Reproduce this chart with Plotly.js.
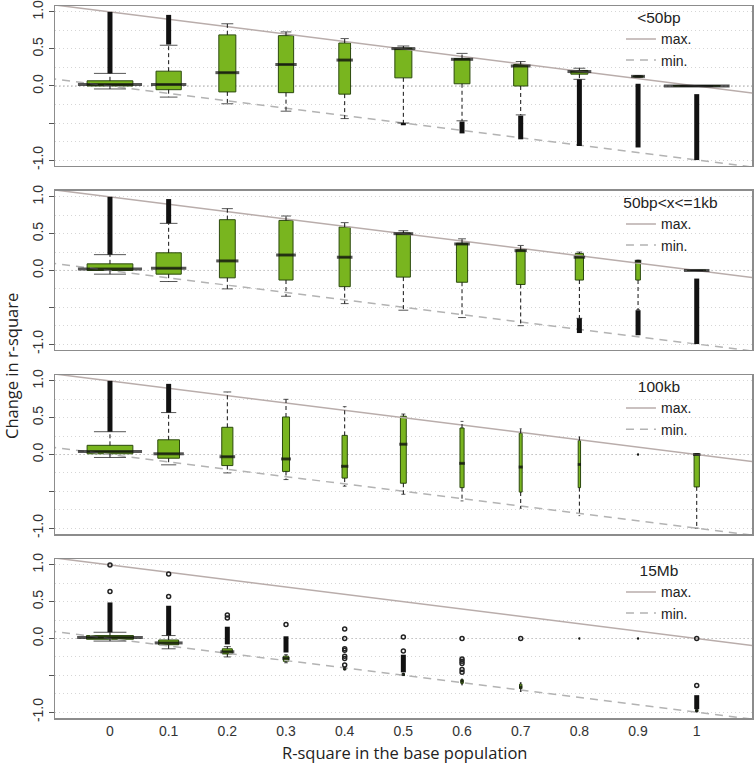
<!DOCTYPE html>
<html><head><meta charset="utf-8">
<script src="https://cdn.plot.ly/plotly-3.0.1.min.js"></script>
<style>html,body{margin:0;padding:0;background:#fff}</style>
</head><body><div id="chart" style="width:755px;height:769px"></div>
<script>
// ---------- data ----------
const rsq = [0, 0.1, 0.2, 0.3, 0.4, 0.5, 0.6, 0.7, 0.8, 0.9, 1];
const xTickLabels = ['0', '0.1', '0.2', '0.3', '0.4', '0.5', '0.6', '0.7', '0.8', '0.9', '1'];
const panelNames = ['&lt;50bp', '50bp&lt;x&lt;=1kb', '100kb', '15Mb'];

const q1 = [
  [0.00, -0.05, -0.08, -0.09, -0.11, 0.11, 0.03, 0.00, 0.16, 0.12, 0.00],
  [0.00, -0.05, -0.10, -0.13, -0.22, -0.09, -0.16, -0.19, -0.13, -0.13, 0.00],
  [0.01, -0.05, -0.15, -0.23, -0.32, -0.39, -0.45, -0.51, -0.45, 0.00, -0.44],
  [-0.01, -0.085, -0.21, -0.31, -0.42, -0.50, -0.61, -0.68, 0.00, 0.00, -0.99]
];
const med = [
  [0.02, 0.02, 0.18, 0.29, 0.35, 0.505, 0.36, 0.27, 0.195, 0.13, 0.00],
  [0.02, 0.03, 0.13, 0.21, 0.18, 0.50, 0.36, 0.27, 0.18, 0.125, 0.00],
  [0.04, 0.01, -0.03, -0.06, -0.16, 0.14, -0.12, -0.17, -0.135, 0.00, 0.00],
  [0.013, -0.06, -0.18, -0.27, -0.41, -0.49, -0.58, -0.66, 0.00, 0.00, -0.98]
];
const q3 = [
  [0.07, 0.20, 0.69, 0.68, 0.58, 0.51, 0.37, 0.29, 0.21, 0.135, 0.005],
  [0.09, 0.24, 0.69, 0.68, 0.59, 0.51, 0.37, 0.28, 0.23, 0.135, 0.005],
  [0.125, 0.20, 0.37, 0.51, 0.26, 0.52, 0.36, 0.29, 0.19, 0.00, 0.01],
  [0.04, -0.02, -0.14, -0.24, -0.40, -0.48, -0.56, -0.62, 0.00, 0.00, -0.97]
];
const lowWhisker = [
  [-0.04, -0.15, -0.24, -0.34, -0.44, -0.50, -0.47, -0.39, 0.09, 0.12, 0.00],
  [-0.05, -0.15, -0.25, -0.35, -0.45, -0.54, -0.64, -0.75, -0.65, -0.53, 0.00],
  [-0.04, -0.14, -0.25, -0.34, -0.43, -0.54, -0.63, -0.73, -0.83, 0.00, -1.00],
  [-0.035, -0.14, -0.25, -0.33, -0.43, -0.50, -0.63, -0.72, 0.00, 0.00, -1.00]
];
const highWhisker = [
  [0.17, 0.55, 0.84, 0.73, 0.64, 0.54, 0.44, 0.33, 0.24, 0.14, 0.00],
  [0.215, 0.64, 0.84, 0.74, 0.65, 0.54, 0.43, 0.34, 0.25, 0.14, 0.00],
  [0.31, 0.57, 0.85, 0.75, 0.65, 0.55, 0.45, 0.35, 0.24, 0.00, 0.01],
  [0.085, 0.04, -0.11, -0.22, -0.40, -0.47, -0.55, -0.60, 0.00, 0.00, -0.97]
];
// relative box widths (varwidth), as a share of category spacing
const boxWidth = [
  [0.78, 0.43, 0.29, 0.26, 0.20, 0.29, 0.27, 0.24, 0.29, 0.17, 0.80],
  [0.78, 0.43, 0.27, 0.24, 0.19, 0.24, 0.19, 0.15, 0.14, 0.08, 0.31],
  [0.78, 0.37, 0.19, 0.12, 0.09, 0.10, 0.07, 0.05, 0.04, 0.02, 0.09],
  [0.80, 0.34, 0.17, 0.09, 0.04, 0.04, 0.04, 0.04, 0.02, 0.02, 0.04]
];
// dense outlier runs: [x, from, to]
const outlierRuns = [
  [[0, 0.17, 1.0], [0.1, 0.56, 0.96], [0.5, -0.50, -0.53], [0.6, -0.48, -0.64], [0.7, -0.40, -0.72], [0.8, 0.09, -0.81], [0.9, 0.03, -0.83], [1, -0.11, -1.0]],
  [[0, 0.215, 1.0], [0.1, 0.64, 0.97], [0.8, -0.65, -0.85], [0.9, -0.54, -0.88], [1, -0.11, -1.0]],
  [[0, 0.31, 1.0], [0.1, 0.57, 0.96]],
  [[0, 0.085, 0.49], [0.1, 0.04, 0.445], [0.2, -0.08, 0.16], [0.3, -0.19, 0.03], [0.5, -0.22, -0.46], [1, -0.77, -0.96]]
];
// isolated outliers
const outlierX = [[], [], [], [0, 0, 0.1, 0.1, 0.2, 0.2, 0.3, 0.4, 0.4, 0.4, 0.4, 0.4, 0.4, 0.4, 0.5, 0.5, 0.6, 0.6, 0.6, 0.6, 0.6, 0.6, 0.7, 1, 1]];
const outlierY = [[], [], [], [0.64, 1.0, 0.57, 0.875, 0.28, 0.32, 0.19, 0.13, 0.0, -0.14, -0.16, -0.24, -0.27, -0.36, 0.02, -0.17, 0.0, -0.28, -0.31, -0.34, -0.42, -0.46, 0.0, 0.0, -0.64]];
// theoretical bounds
const boundX = [-0.2, 1.2];
const maxBound = [1.2, -0.2];
const minBound = [0.2, -1.2];

// ---------- layout geometry ----------
const W = 755, H = 769;
const M = {l: 55, r: 3, t: 6, b: 51};
const plotW = W - M.l - M.r;
const xRange = [-0.0937, 1.0942];
const pxPerUnit = plotW / (xRange[1] - xRange[0]);
const spacing = 0.1;
const domains = [[0.7753, 1.0], [0.5169, 0.7402], [0.2584, 0.4817], [0.0, 0.2233]];

const GREEN = '#79b51f';
const OUTLINE = '#2c4a0e';
const FONT = 'Liberation Sans, Arial, sans-serif';
const GRID = '#d6d6d6';

const traces = [];
const layout = {
  width: W, height: H, margin: M,
  paper_bgcolor: '#fff', plot_bgcolor: '#fff',
  font: {family: FONT, size: 13, color: '#222'},
  showlegend: true,
  shapes: [], annotations: []
};

for (let p = 0; p < 4; p++) {
  const sfx = p === 0 ? '' : String(p + 1);
  const xa = 'x' + sfx, ya = 'y' + sfx;
  const lg = 'legend' + sfx;

  layout['xaxis' + sfx] = {
    domain: [0, 1], anchor: ya, range: xRange, matches: p === 0 ? undefined : 'x',
    showgrid: false, zeroline: false, showline: true, mirror: true,
    linecolor: '#8c8c8c', linewidth: 1.5,
    tickmode: 'array', tickvals: rsq, ticktext: xTickLabels,
    showticklabels: p === 3, ticks: '',
    tickfont: {family: FONT, size: 14, color: '#333'}
  };
  layout['yaxis' + sfx] = {
    domain: domains[p], anchor: xa, range: [-1.08, 1.08],
    showline: true, mirror: true, linecolor: '#8c8c8c', linewidth: 1.5,
    zeroline: false, ticklabeloverflow: 'allow',
    tickmode: 'array', tickvals: [-1, -0.5, 0, 0.5, 1], ticktext: ['-1.0', '', '0.0', '0.5', '1.0'],
    ticks: 'outside', ticklen: 5, tickcolor: '#555', tickangle: -90,
    tickfont: {family: FONT, size: 14, color: '#333'},
    showgrid: true, gridcolor: GRID, griddash: '1px,3px', gridwidth: 1,
    minor: {tickvals: [-0.75, -0.25, 0.25, 0.75], showgrid: true, gridcolor: GRID, griddash: '1px,3px', gridwidth: 1, ticks: ''}
  };
  layout.shapes.push({type: 'line', xref: xa + ' domain', yref: ya, x0: 0, x1: 1, y0: 0, y1: 0,
    line: {color: '#8a8a8a', width: 1, dash: '1.5px,2.5px'}, layer: 'below'});

  layout[lg] = {
    x: 0.812, xanchor: 'left', y: domains[p][1] + 0.004, yanchor: 'top',
    bgcolor: 'rgba(0,0,0,0)', borderwidth: 0,
    font: {family: FONT, size: 14, color: '#222'},
    title: {text: panelNames[p], side: 'top center', font: {family: FONT, size: 15.5, color: '#222'}},
    itemwidth: 30, tracegroupgap: 0
  };

  // bounds
  traces.push({type: 'scatter', mode: 'lines', x: boundX, y: maxBound, xaxis: xa, yaxis: ya,
    name: 'max.', legend: lg, showlegend: true, hoverinfo: 'skip',
    line: {color: '#b9adab', width: 1.5}});
  traces.push({type: 'scatter', mode: 'lines', x: boundX, y: minBound, xaxis: xa, yaxis: ya,
    name: 'min.', legend: lg, showlegend: true, hoverinfo: 'skip',
    line: {color: '#b3b3b3', width: 1.5, dash: '8px,6px'}});

  // whiskers (dashed)
  const wx = [], wy = [];
  const capX = [], capY = [], capS = [];
  for (let i = 0; i < rsq.length; i++) {
    if (highWhisker[p][i] > q3[p][i]) { wx.push(rsq[i], rsq[i], null); wy.push(q3[p][i], highWhisker[p][i], null); }
    if (lowWhisker[p][i] < q1[p][i]) { wx.push(rsq[i], rsq[i], null); wy.push(q1[p][i], lowWhisker[p][i], null); }
    const bpx = boxWidth[p][i] * spacing * pxPerUnit;
    capX.push(rsq[i], rsq[i]); capY.push(highWhisker[p][i], lowWhisker[p][i]);
    capS.push(Math.max(bpx * 0.5, 1), Math.max(bpx * 0.5, 1));
  }
  traces.push({type: 'scatter', mode: 'lines', x: wx, y: wy, xaxis: xa, yaxis: ya, showlegend: false,
    hoverinfo: 'skip', connectgaps: false, line: {color: '#111', width: 1, dash: '4px,3px'}});
  traces.push({type: 'scatter', mode: 'markers', x: capX, y: capY, xaxis: xa, yaxis: ya, showlegend: false,
    hoverinfo: 'skip', marker: {symbol: 'line-ew', size: capS, color: '#111', line: {color: '#111', width: 1}}});

  // dense outlier runs
  const ox = [], oy = [];
  outlierRuns[p].forEach(r => { ox.push(r[0], r[0], null); oy.push(r[1], r[2], null); });
  traces.push({type: 'scatter', mode: 'lines', x: ox, y: oy, xaxis: xa, yaxis: ya, showlegend: false,
    hoverinfo: 'skip', connectgaps: false, line: {color: '#111', width: 5}});
  if (outlierX[p].length) {
    traces.push({type: 'scatter', mode: 'markers', x: outlierX[p], y: outlierY[p], xaxis: xa, yaxis: ya,
      showlegend: false, hoverinfo: 'skip',
      marker: {symbol: 'circle-open', size: 4, color: '#222', line: {color: '#222', width: 1.5}}});
  }

  // boxes
  const mx = [], my = [], ms = [];
  for (let i = 0; i < rsq.length; i++) {
    traces.push({type: 'box', x: [rsq[i]], q1: [q1[p][i]], median: [med[p][i]], q3: [q3[p][i]],
      lowerfence: [q1[p][i]], upperfence: [q3[p][i]], width: boxWidth[p][i] * spacing,
      xaxis: xa, yaxis: ya, showlegend: false, hoverinfo: 'skip', boxpoints: false, whiskerwidth: 0,
      fillcolor: GREEN, line: {color: OUTLINE, width: 1}});
    mx.push(rsq[i]); my.push(med[p][i]);
    ms.push(Math.max(boxWidth[p][i] * spacing * pxPerUnit, 1));
  }
  traces.push({type: 'scatter', mode: 'markers', x: mx, y: my, xaxis: xa, yaxis: ya, showlegend: false,
    hoverinfo: 'skip', marker: {symbol: 'line-ew', size: ms, color: '#111', line: {color: '#111', width: 3}}});
}

// axis titles
layout.annotations.push({text: 'Change in r-square', xref: 'paper', yref: 'paper',
  x: (11 - M.l) / plotW, y: (H - M.b - 366) / (H - M.t - M.b), xanchor: 'center', yanchor: 'middle',
  textangle: -90, showarrow: false, font: {family: 'Open Sans, sans-serif', size: 16.5, color: '#222'}});
layout.annotations.push({text: 'R-square in the base population', xref: 'paper', yref: 'paper',
  x: (405 - M.l) / plotW, y: (H - M.b - 752) / (H - M.t - M.b), xanchor: 'center', yanchor: 'middle',
  showarrow: false, font: {family: 'Open Sans, sans-serif', size: 16.5, color: '#222'}});

Plotly.newPlot('chart', traces, layout, {staticPlot: true, displayModeBar: false});
</script></body></html>
